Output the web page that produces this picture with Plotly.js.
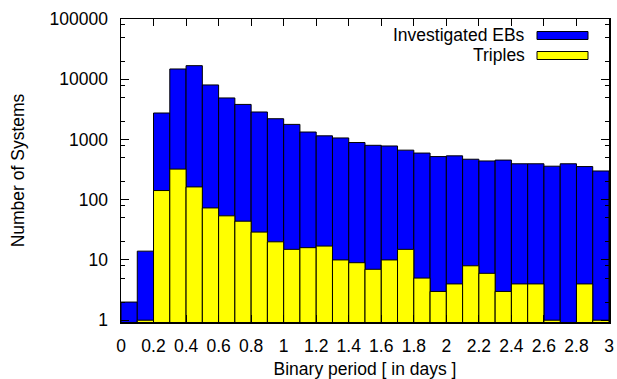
<!DOCTYPE html>
<html>
<head>
<meta charset="utf-8">
<script src="https://cdn.plot.ly/plotly-3.0.1.min.js"></script>
<style>html,body{margin:0;padding:0;background:#fff;}#chart{width:617px;height:379px;}</style>
</head>
<body>
<div id="chart"></div>
<script>
// Bin left edges (binary period, days), bin width 0.1
const binStart = [0.0,0.1,0.2,0.3,0.4,0.5,0.6,0.7,0.8,0.9,1.0,1.1,1.2,1.3,1.4,1.5,1.6,1.7,1.8,1.9,2.0,2.1,2.2,2.3,2.4,2.5,2.6,2.7,2.8,2.9];
const investigatedEBs = [2,14,2750,14800,16800,8040,4890,3820,2860,2210,1780,1330,1150,1060,890,800,780,665,595,520,535,470,440,455,395,395,360,395,355,300];
const triples = [0,1,142,322,163,73,54,44,29,20,15,16,17,10,9,7,10,15,5,3,4,8,6,3,4,4,1,0,4,1];
const seriesNames = ["Investigated EBs","Triples"];
const xTickVals = [0,0.2,0.4,0.6,0.8,1,1.2,1.4,1.6,1.8,2,2.2,2.4,2.6,2.8,3];
const xTickText = ["0","0.2","0.4","0.6","0.8","1","1.2","1.4","1.6","1.8","2","2.2","2.4","2.6","2.8","3"];
const yTickVals = [1,10,100,1000,10000,100000];
const yTickText = ["1","10","100","1000","10000","100000"];
const yMinorVals = [2,5,8,20,50,80,200,500,800,2000,5000,8000,20000,50000,80000];

const FONT = "Liberation Sans, Arial, sans-serif";
const FS = 17.5;
const colors = ["#0000ff","#ffff00"];

const traces = [investigatedEBs, triples].map((vals, i) => ({
  type: "bar",
  name: seriesNames[i],
  x: binStart,
  y: vals.map(v => v > 0 ? v : null),
  width: 0.1,
  offset: 0,
  marker: {color: colors[i], line: {color: "#000", width: 1}},
  showlegend: false,
  hoverinfo: "x+y"
}));

const plotL = 121, plotR = 609, plotT = 19, plotB = 322;
const W = 617, H = 379;
const px = x => (x - plotL) / (plotR - plotL);
const py = y => (plotB - y) / (plotB - plotT);

const layout = {
  width: W, height: H,
  margin: {l: plotL, r: W - plotR, t: plotT, b: H - plotB, pad: 0},
  paper_bgcolor: "#fff", plot_bgcolor: "#fff",
  barmode: "overlay",
  bargap: 0,
  font: {family: FONT, size: FS, color: "#000"},
  xaxis: {
    range: [0, 3],
    tickmode: "array", tickvals: xTickVals, ticktext: xTickText,
    ticks: "inside", ticklen: 7, tickwidth: 1, tickcolor: "#000",
    showline: true, linecolor: "#000", linewidth: 1.5, mirror: "ticks",
    showgrid: false, zeroline: false,
    ticklabelstandoff: 7,
    tickfont: {family: FONT, size: FS, color: "#000"},
    title: {text: "Binary period [ in days ]", font: {family: FONT, size: FS, color: "#000"}, standoff: 9}
  },
  yaxis: {
    type: "log",
    range: [-0.03, 5],
    tickmode: "array", tickvals: yTickVals, ticktext: yTickText,
    ticks: "inside", ticklen: 8, tickwidth: 1, tickcolor: "#000",
    minor: {tickmode: "array", tickvals: yMinorVals, ticks: "inside", ticklen: 4, tickcolor: "#000", tickwidth: 1, showgrid: false},
    showline: true, linecolor: "#000", linewidth: 1.5, mirror: "ticks",
    showgrid: false, zeroline: false,
    ticklabelstandoff: 8,
    tickfont: {family: FONT, size: FS, color: "#000"},
    title: {text: "Number of Systems", font: {family: FONT, size: FS, color: "#000"}, standoff: 20}
  },
  annotations: [
    {xref: "paper", yref: "paper", x: px(527), y: py(35), xanchor: "right", yanchor: "middle", text: seriesNames[0], showarrow: false, font: {family: FONT, size: FS, color: "#000"}},
    {xref: "paper", yref: "paper", x: px(527), y: py(55), xanchor: "right", yanchor: "middle", text: seriesNames[1], showarrow: false, font: {family: FONT, size: FS, color: "#000"}}
  ],
  shapes: [
    {type: "rect", xref: "paper", yref: "paper", x0: px(537), x1: px(588), y0: py(39.5), y1: py(31.5), fillcolor: colors[0], line: {color: "#000", width: 1}},
    {type: "rect", xref: "paper", yref: "paper", x0: px(537), x1: px(588), y0: py(59.5), y1: py(51.5), fillcolor: colors[1], line: {color: "#000", width: 1}}
  ]
};

Plotly.newPlot("chart", traces, layout, {displayModeBar: false, staticPlot: true});
</script>
</body>
</html>
